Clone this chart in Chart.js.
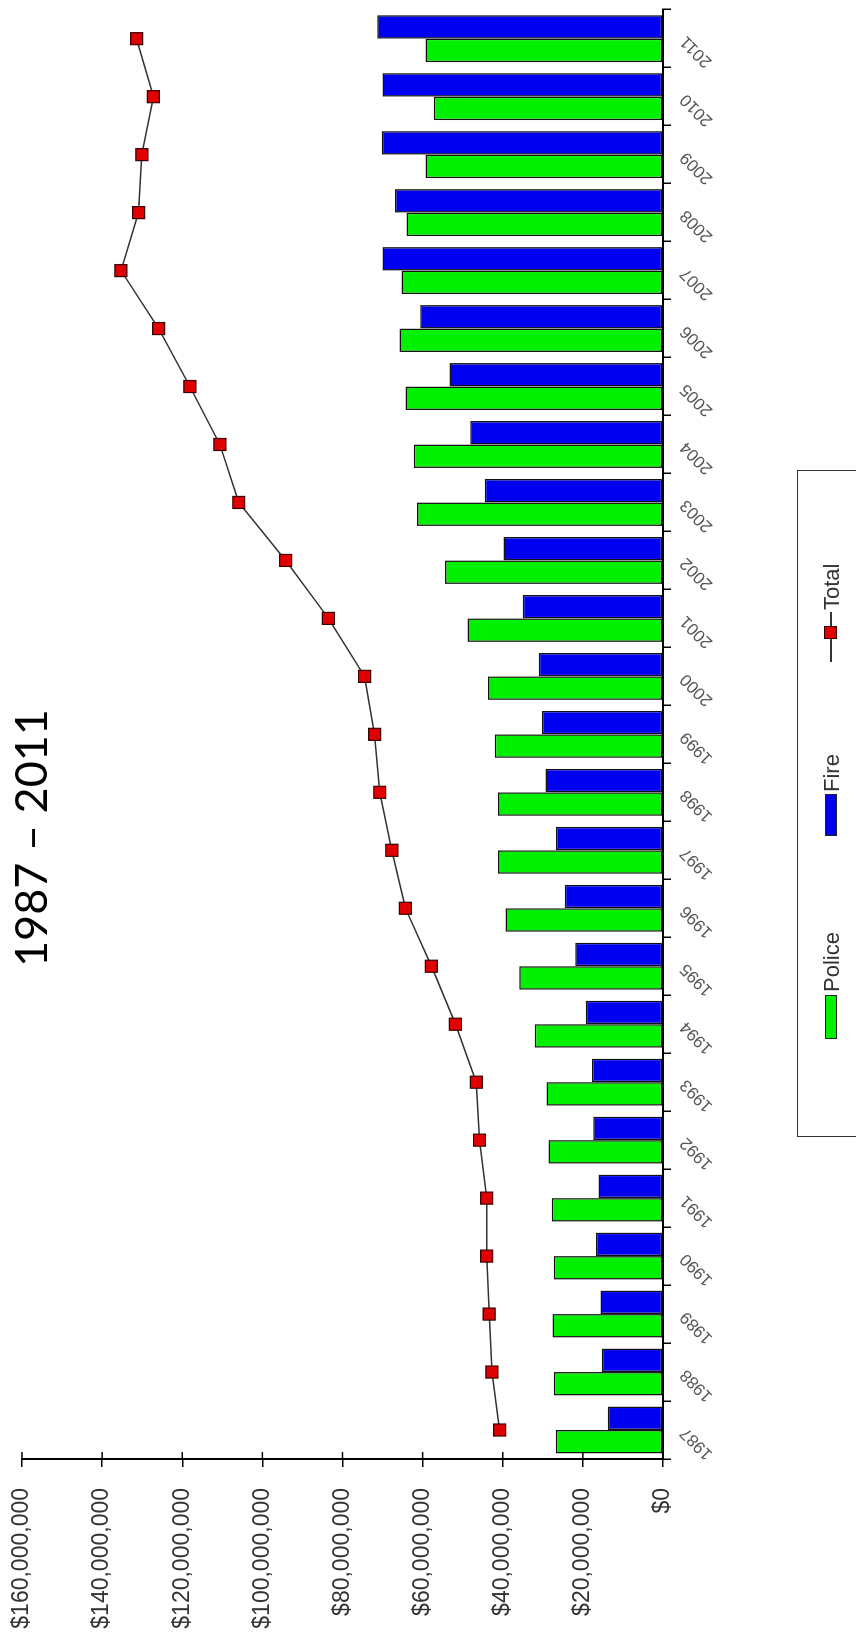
<!DOCTYPE html>
<html>
<head>
<meta charset="utf-8">
<script src="https://cdn.jsdelivr.net/npm/chart.js@4.4.1/dist/chart.umd.min.js"></script>
<style>
  html, body { margin: 0; padding: 0; background: #fff; width: 856px; height: 1635px; overflow: hidden; }
  /* the chart is laid out landscape and turned a quarter turn counter-clockwise */
  #frame { position: absolute; left: 0; top: 0; width: 1635px; height: 856px; background: #fff;
           transform-origin: 0 0; transform: translate(0, 1635px) rotate(-90deg); overflow: hidden; }
  #chart { position: absolute; left: 0; top: 0; }
  #title { position: absolute; left: 597px; top: 8px; width: 400px; text-align: center;
           font: 45px/45px Lato, sans-serif; color: #000; }
  #legend { position: absolute; left: 498px; top: 797px; width: 667px; height: 90px;
            border: 1.5px solid #333; box-sizing: border-box; font: 22px/26px 'Liberation Sans', Arial, sans-serif; color: #333; }
  #legend span { position: absolute; }
  .swatch { top: 27px; height: 12px; border: 1px solid #222; box-sizing: border-box; }
  .text { top: 21px; white-space: nowrap; }
</style>
</head>
<body>
<div id="frame">
  <canvas id="chart" width="1635" height="856"></canvas>
  <div id="title">1987 – 2011</div>
  <div id="legend"></div>
</div>
<script>
const years = ['1987', '1988', '1989', '1990', '1991', '1992', '1993', '1994', '1995', '1996', '1997', '1998', '1999',
  '2000', '2001', '2002', '2003', '2004', '2005', '2006', '2007', '2008', '2009', '2010', '2011'];

const police = [26800000, 27300000, 27600000, 27300000, 27800000, 28600000, 29100000, 32000000, 35900000, 39300000,
  41200000, 41200000, 42000000, 43700000, 48800000, 54400000, 61400000, 62200000, 64300000, 65800000,
  65300000, 64000000, 59300000, 57200000, 59300000];

const fire = [13800000, 15300000, 15600000, 16700000, 16100000, 17400000, 17700000, 19300000, 21900000, 24500000,
  26700000, 29300000, 30200000, 31000000, 35000000, 39800000, 44500000, 48100000, 53300000, 60600000,
  70000000, 66900000, 70200000, 70000000, 71300000];

const total = [40800000, 42700000, 43400000, 44000000, 44000000, 45800000, 46600000, 51800000, 57800000, 64300000,
  67700000, 70700000, 72000000, 74500000, 83500000, 94200000, 105900000, 110600000, 118100000, 125900000,
  135300000, 130900000, 130100000, 127200000, 131400000];

const valueMax = 160000000;
const valueStep = 20000000;

const policeColor = '#00f000';
const fireColor = '#0000f0';
const totalColor = '#e00000';

Chart.defaults.font.family = "'Liberation Sans', Arial, sans-serif";

// small tick marks on the inner side of the value axis
const innerTicks = {
  id: 'innerTicks',
  afterDraw(chart) {
    const { ctx, chartArea } = chart;
    const y = chart.scales.y;
    ctx.save();
    ctx.strokeStyle = '#000';
    ctx.lineWidth = 1.5;
    y.ticks.forEach((t, i) => {
      const py = y.getPixelForTick(i);
      ctx.beginPath();
      ctx.moveTo(chartArea.left, py);
      ctx.lineTo(chartArea.left + 7, py);
      ctx.stroke();
    });
    ctx.restore();
  }
};

new Chart(document.getElementById('chart'), {
  data: {
    labels: years,
    datasets: [
      {
        type: 'line',
        label: 'Total',
        data: total,
        order: 0,
        borderColor: '#333',
        borderWidth: 1.5,
        tension: 0,
        pointStyle: 'rect',
        pointRadius: 8.5,
        pointBackgroundColor: totalColor,
        pointBorderColor: '#3a0000',
        pointBorderWidth: 1.2
      },
      {
        type: 'bar',
        label: 'Police',
        data: police,
        order: 1,
        backgroundColor: policeColor,
        borderColor: '#111',
        borderWidth: 1.5,
        borderSkipped: false
      },
      {
        type: 'bar',
        label: 'Fire',
        data: fire,
        order: 1,
        backgroundColor: fireColor,
        borderColor: '#111',
        borderWidth: 1.5,
        borderSkipped: false
      }
    ]
  },
  options: {
    responsive: false,
    animation: false,
    layout: { padding: { top: 22, right: 4, left: 0, bottom: 0 } },
    datasets: { bar: { categoryPercentage: 0.81, barPercentage: 1 } },
    plugins: { legend: { display: false }, tooltip: { enabled: false } },
    scales: {
      x: {
        offset: true,
        grid: { offset: true, drawOnChartArea: false, tickLength: 8, color: '#000', lineWidth: 1.5 },
        border: { color: '#000', width: 2 },
        ticks: { minRotation: 45, maxRotation: 45, padding: 5, color: '#555', font: { size: 17 } },
        afterFit: s => { s.height = 193; }
      },
      y: {
        min: 0,
        max: valueMax,
        grid: { drawOnChartArea: false, tickLength: 8, color: '#000', lineWidth: 1.5 },
        border: { color: '#000', width: 2 },
        ticks: {
          stepSize: valueStep,
          padding: 21,
          color: '#333',
          font: { size: 23 },
          callback: v => '$' + v.toLocaleString('en-US')
        },
        afterFit: s => {
          s.width = 176;
          s.paddingTop = 0;
          s.paddingBottom = 0;
        }
      }
    }
  },
  plugins: [innerTicks]
});

// legend box, built from the same series names and colours
const legend = document.getElementById('legend');
legend.innerHTML =
  '<span class="swatch" style="left:97px;width:44px;background:' + policeColor + '"></span>' +
  '<span class="text" style="left:144px">Police</span>' +
  '<span class="swatch" style="left:300px;width:42px;background:' + fireColor + '"></span>' +
  '<span class="text" style="left:344px">Fire</span>' +
  '<span style="left:474px;top:32px;width:50px;height:2px;background:#333"></span>' +
  '<span style="left:497px;top:26px;width:13px;height:13px;background:' + totalColor + ';border:1px solid #3a0000;box-sizing:border-box"></span>' +
  '<span class="text" style="left:526px">Total</span>';
</script>
</body>
</html>
